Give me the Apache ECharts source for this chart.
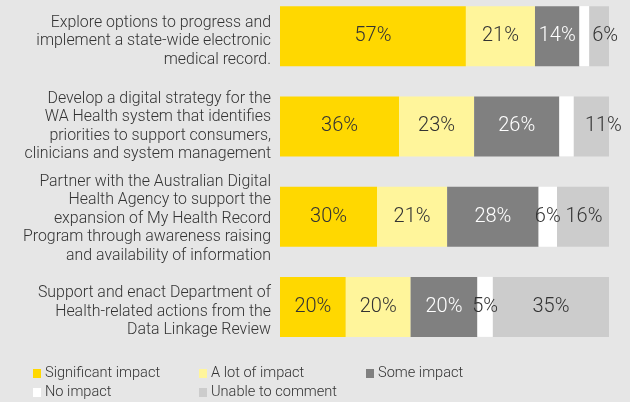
<!DOCTYPE html>
<html>
<head>
<meta charset="utf-8">
<script src="https://cdn.jsdelivr.net/npm/echarts@6/dist/echarts.min.js"></script>
<style>
    html, body { margin: 0; padding: 0; background: #ffffff; }
    #frame { width: 630px; height: 402px; overflow: hidden; background: #e6e6e6; }
    #chart { width: 630px; height: 411px; margin-top: -9px; }
</style>
</head>
<body>
<div id="frame"><div id="chart"></div></div>
<script>
const categories = [
    "Explore options to progress and\nimplement a state-wide electronic\nmedical record.",
    "Develop a digital strategy for the\nWA Health system that identifies\npriorities to support consumers,\nclinicians and system management",
    "Partner with the Australian Digital\nHealth Agency to support the\nexpansion of My Health Record\nProgram through awareness raising\nand availability of information",
    "Support and enact Department of\nHealth-related actions from the\nData Linkage Review",
];
const seriesNames = ["Significant impact", "A lot of impact", "Some impact", "No impact", "Unable to comment"];
const significant = [56.5, 36.2, 29.5, 20];
const aLot = [21, 22.8, 21.3, 19.7];
const some = [13.5, 25.9, 27.8, 20.3];
const none = [3, 4.4, 5.6, 4.7];
const unable = [6, 10.7, 15.8, 35.3];

const colors = ["#ffd800", "#fff59b", "#808080", "#ffffff", "#cccccc"];
const labelColors = ["#333333", "#333333", "#ffffff", "#333333", "#333333"];
const font = "Roboto";
// small per-row nudges so the text sits as in the original
const unableLabelShift = [6, 12, 1, 0];
const categoryNudge = ["sp5", "", "sp2", "sp5"];

const chart = echarts.init(document.getElementById("chart"));

const seriesData = [significant, aLot, some, none, unable];
const legendPos = [[33, 375], [199, 375], [366, 375], [33, 394], [199, 394]];

chart.setOption({
    backgroundColor: "#e6e6e6",
    animation: false,
    grid: { left: 280, right: 21, top: 0, height: 361 },
    legend: seriesNames.map((name, i) => ({
        data: [name],
        left: legendPos[i][0],
        top: legendPos[i][1],
        padding: 0,
        icon: "rect",
        itemWidth: 8,
        itemHeight: 9,
        itemGap: 4,
        selectedMode: false,
        textStyle: { fontFamily: font, fontWeight: 300, fontSize: 14.6, color: "#333333", padding: [0, 0, 0, -1] },
    })),
    xAxis: { type: "value", min: 0, max: 100, show: false },
    yAxis: {
        type: "category",
        inverse: true,
        data: categories,
        axisLine: { show: false },
        axisTick: { show: false },
        axisLabel: {
            margin: 9,
            fontFamily: font,
            fontWeight: 300,
            fontSize: 15.9,
            lineHeight: 18.5,
            color: "#333333",
            align: "right",
            formatter: (value, index) =>
                categoryNudge[index] ? "{" + categoryNudge[index] + "| }\n" + value : value,
            rich: {
                sp5: { fontSize: 1, lineHeight: 10, height: 10 },
                sp2: { fontSize: 1, lineHeight: 4, height: 4 },
            },
        },
    },
    series: seriesNames.map((name, i) => ({
        name: name,
        type: "bar",
        stack: "all",
        barWidth: 60,
        data: seriesData[i].map((v, j) =>
            i === 4 ? { value: v, label: { offset: [unableLabelShift[j], 0] } } : v
        ),
        itemStyle: { color: colors[i] },
        label: {
            show: true,
            position: "inside",
            fontFamily: font,
            fontWeight: 300,
            fontSize: 20,
            color: labelColors[i],
            formatter: (p) => (Math.round(p.value) >= 5 ? Math.round(p.value) + "%" : ""),
        },
    })),
});
</script>
</body>
</html>
